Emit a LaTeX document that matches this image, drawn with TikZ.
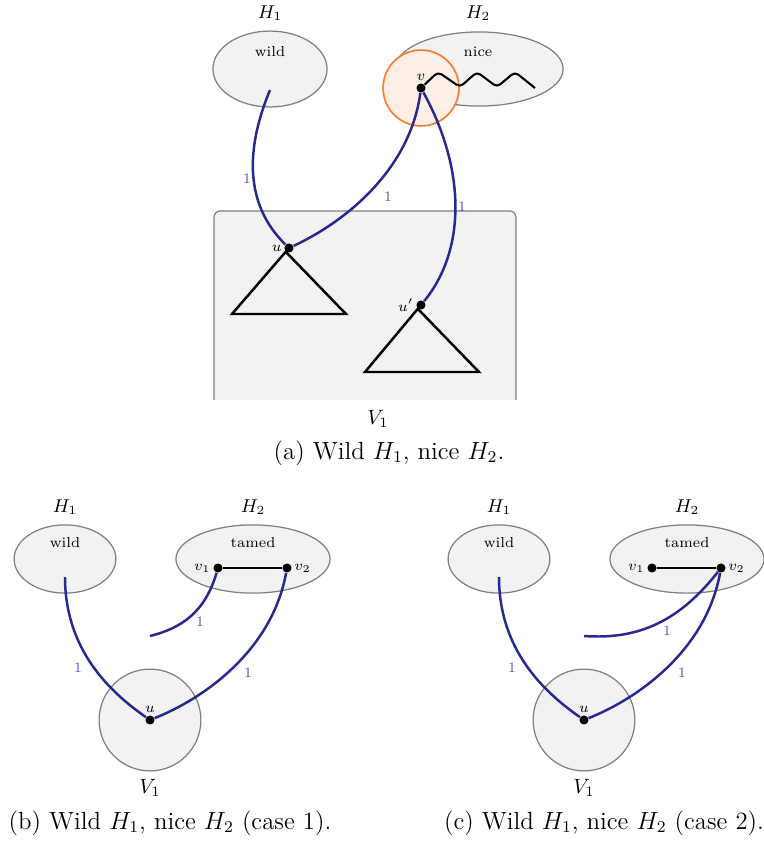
\documentclass[tikz,border=0pt]{standalone}
\usetikzlibrary{positioning, shapes.geometric}
\definecolor{Edge}{RGB}{40,40,145}
\definecolor{Weight}{RGB}{85,85,185}
\definecolor{Blob}{gray}{0.95}
\definecolor{Rim}{gray}{0.5}
\definecolor{Hot}{RGB}{240,125,50}
\tikzset{
    blob/.style={ellipse, draw=Rim, fill=Blob, line width=0.6pt, inner sep=0pt},
    vtx/.style={circle, fill=black, inner sep=0pt, minimum size=4.4pt},
    edge/.style={draw=Edge, line width=1.2pt},
    weight/.style={font=\scriptsize, text=Weight, inner sep=1pt},
    vlabel/.style={font=\scriptsize, inner sep=1pt},
    part/.style={font=\small},
    tag/.style={font=\scriptsize},
    tri/.style={line width=1.2pt, line join=miter},
    caption/.style={font=\large},
}
\begin{document}
\begin{tikzpicture}[x=0.017cm, y=-0.017cm]
    \useasboundingbox (0,0) rectangle (764,842);
    % Caso (a)
    \node[blob, minimum width=1.94cm, minimum height=1.29cm] (h1) at (270,69) {};
    \node[tag] (h1tag) at (270,52) {wild};
    \node[part] (h1lab) at (270,13) {$H_1$};
    \node[blob, minimum width=2.86cm, minimum height=1.26cm] (h2) at (479,69) {};
    \node[tag] (h2tag) at (478,52) {nice};
    \node[part] (h2lab) at (478,13) {$H_2$};
    \node[circle, draw=Hot, fill=Hot!12, line width=0.8pt, minimum size=1.29cm, inner sep=0pt] (hot) at (421,88) {};
    \path[fill=Blob, draw=Rim, line width=0.6pt, rounded corners=3pt]
        (214,400) -- (214,211) -- (516,211) -- (516,400);
    \node (v1lab) at (378,419) {$V_1$};
    
    \node[vtx] (v) at (421,88) {};
    \node[vlabel, above=0pt of v] (vlab) {$v$};
    \draw[line width=1pt, rounded corners=2pt] (v) -- ++(17,-16) -- ++(22,15) -- ++(17,-15)
        -- ++(20,15) -- ++(18,-15) -- ++(20,16);
    
    \node[vtx] (u) at (289,248) {};
    \node[vlabel, left=0pt of u] (ulab) {$u$};
    \draw[tri] (u) -- ++(-57,66) -- ++(114,0) -- cycle;
    \node[vtx] (up) at (421,305) {};
    \node[vlabel, left=0pt of up] (uplab) {$u'$};
    \draw[tri] (up) -- ++(-56,67) -- ++(114,0) -- cycle;
    
    \coordinate (w) at (270,90);
    \draw[edge] (w) .. controls (245,150) and (245,205) .. (u);
    \draw[edge] (v) .. controls (410,170) and (345,222) .. (u);
    \draw[edge] (v) .. controls (466,170) and (466,250) .. (up);
    \node[weight] (wa) at (247,179) {1};
    \node[weight] (wb) at (388,197) {1};
    \node[weight] (wc) at (462,207) {1};
    
    \node[caption] (capa) at (389,453) {(a) Wild $H_1$, nice $H_2$.};
    
    % Casi (b) e (c)
    \foreach \dx/\case/\letter in {0/1/b, 434/2/c} {
        \begin{scope}[shift={(\dx,0)}]
            \node[blob, minimum width=1.73cm, minimum height=1.16cm] (g1\case) at (65,559) {};
            \node[tag] (g1tag\case) at (65,543) {wild};
            \node[part] (g1lab\case) at (65,507) {$H_1$};
            \node[blob, minimum width=2.62cm, minimum height=1.16cm] (g2\case) at (253,559) {};
            \node[tag] (g2tag\case) at (253,543) {tamed};
            \node[part] (g2lab\case) at (253,507) {$H_2$};
            \node[circle, draw=Rim, fill=Blob, line width=0.6pt, minimum size=1.73cm, inner sep=0pt] (base\case) at (150,720) {};
            \node (baselab\case) at (150,788) {$V_1$};
            
            \node[vtx] (a\case) at (218,568) {};
            \node[vtx] (b\case) at (287,568) {};
            \draw[line width=1pt] (a\case) -- (b\case);
            \node[vlabel, left=0pt of a\case] (alab\case) {$v_1$};
            \node[vlabel, right=0pt of b\case] (blab\case) {$v_2$};
            \node[vtx] (c\case) at (150,720) {};
            \node[vlabel, above=0pt of c\case] (clab\case) {$u$};
            
            \coordinate (s\case) at (65,577);
            \draw[edge] (s\case) .. controls (65,650) and (110,692) .. (c\case);
            \draw[edge] (b\case) .. controls (272,650) and (205,698) .. (c\case);
            \node[weight] (x\case) at (78,668) {1};
            \node[weight] (y\case) at (248,673) {1};
            \coordinate (t\case) at (150,636);
            \ifnum\case=1
                \draw[edge] (a\case) .. controls (205,612) and (182,628) .. (t\case);
                \node[weight] (z\case) at (200,622) {1};
            \else
                \draw[edge] (b\case) .. controls (246,620) and (206,640) .. (t\case);
                \node[weight] (z\case) at (233,631) {1};
            \fi
            
            \node[caption] (cap\case) at (170,823) {(\letter) Wild $H_1$, nice $H_2$ (case \case).};
        \end{scope}
    }
\end{tikzpicture}
\end{document}
